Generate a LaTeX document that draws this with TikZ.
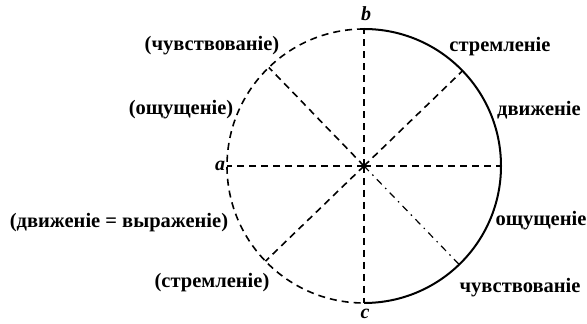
\documentclass[tikz,border=0pt]{standalone}
\usepackage{fontspec}
\setmainfont{Liberation Serif}
\usetikzlibrary{positioning}
\tikzset{
lbl/.style={
font=\bfseries\fontsize{20.5}{20.5}\selectfont,
inner sep=1pt
},
letter/.style={
font=\bfseries\itshape\fontsize{20}{20}\selectfont,
inner sep=1pt
},
ray/.style={
dash pattern=on 7pt off 5pt,
line width=1.6pt
},
rim/.style={
line width=2pt
}
}

\begin{document}
\begin{tikzpicture}[x=1pt,y=1pt]
\useasboundingbox (0,0) rectangle (587,324);
\coordinate (o) at (364,158);
\coordinate (top) at ([shift={(90:137)}]o);
\coordinate (bot) at ([shift={(270:137)}]o);
\coordinate (lft) at ([shift={(180:137)}]o);
\coordinate (rgt) at ([shift={(0:137)}]o);
\coordinate (ur) at ([shift={(44:137)}]o);
\coordinate (ul) at ([shift={(134:137)}]o);
\coordinate (ll) at ([shift={(224:137)}]o);
\coordinate (lr) at ([shift={(314:137)}]o);

% circle: right half solid, left half dashed
\draw[rim](top) arc[start angle=90,end angle=-90,radius=137pt];
\draw[ray](top) arc[start angle=90,end angle=270,radius=137pt];

\draw[ray](o)--(top);
\draw[ray](o)--(bot);
\draw[ray](o)--(lft);
\draw[ray](o)--(rgt);
\draw[ray](o)--(ur);
\draw[ray](o)--(ul);
\draw[ray](o)--(ll);
\draw[ray,line width=1.2pt,dash pattern=on 7pt off 5pt on 1.5pt off 5pt](o)--(lr);

\node[letter](b) at (366,310){b};
\node[letter](a) at (220,158){a};
\node[letter](c) at (365,10){c};

\node[lbl](s1) at (500,277){стремленіе};
\node[lbl](d1) at (539,214){движеніе};
\node[lbl](q1) at (541,103){ощущеніе};
\node[lbl](v1) at (520,36){чувствованіе};
\node[lbl](v2) at (212,278){(чувствованіе)};
\node[lbl](q2) at (181,214){(ощущеніе)};
\node[lbl](d2) at (119,101){(движеніе = выраженіе)};
\node[lbl](s2) at (212,41){(стремленіе)};
\end{tikzpicture}
\end{document}
